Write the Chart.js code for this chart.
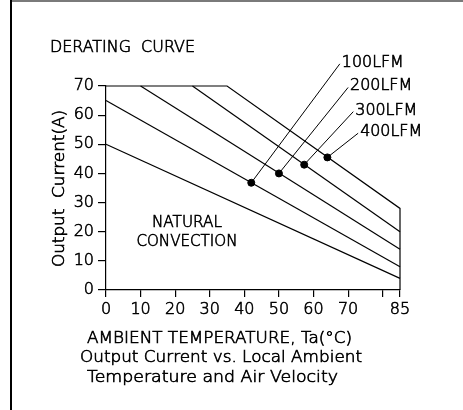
<!DOCTYPE html>
<html>
<head>
<meta charset="utf-8">
<script src="https://cdn.jsdelivr.net/npm/chart.js@4.4.1/dist/chart.umd.min.js"></script>
<style>
  html, body { margin: 0; padding: 0; background: #fff; }
  #wrap { width: 463px; height: 410px; }
</style>
</head>
<body>
<div id="wrap"><canvas id="chart" width="463" height="410"></canvas></div>
<script>
'use strict';

/* ---- Data ---- */
const xTicks = [0, 10, 20, 30, 40, 50, 60, 70, 80, 85];
const yTicks = [0, 10, 20, 30, 40, 50, 60, 70];

const naturalX = [0, 85];
const naturalY = [50, 4];
const lfm100X = [0, 85];
const lfm100Y = [65, 8];
const lfm200X = [10, 85];
const lfm200Y = [70, 14];
const lfm300X = [25, 85];
const lfm300Y = [70, 20];
const lfm400X = [0, 35, 85, 85];
const lfm400Y = [70, 70, 28, 0];

const airflowLabels = ['100LFM', '200LFM', '300LFM', '400LFM'];
const markerX = [42, 50, 57.3, 64];
const markerY = [36.8, 40, 43, 45.5];
const leaderX = [67.6, 70, 71.5, 72.9];
const leaderY = [77.6, 69.5, 61.2, 53.8];

const noteLines = ['NATURAL', 'CONVECTION'];
const noteX = 23.4;
const noteY = [21.6, 15.1];

/* ---- Helpers ---- */
const FONT = "'DejaVu Sans ExtraLight', 'DejaVu Sans', sans-serif";
const STROKE = 0.6;
const pts = (xs, ys) => xs.map((x, i) => ({ x, y: ys[i] }));

const lineStyle = {
  showLine: true,
  borderColor: '#000',
  borderWidth: 1.2,
  pointRadius: 0,
  fill: false,
  tension: 0,
  clip: false
};

// draw text stretched to a given width (CAD font is wider than DejaVu)
function drawFitted(ctx, text, x, y, w) {
  const natural = ctx.measureText(text).width;
  ctx.save();
  ctx.translate(x, y);
  ctx.scale(w / natural, 1);
  ctx.fillText(text, 0, 0);
  ctx.strokeText(text, 0, 0);
  ctx.restore();
}

/* ---- Frame + annotations ---- */
const sheetPlugin = {
  id: 'sheet',
  beforeDraw(chart) {
    const ctx = chart.ctx;
    ctx.save();
    ctx.fillStyle = '#fff';
    ctx.fillRect(0, 0, chart.width, chart.height);
    ctx.fillStyle = '#7a7a7a';
    ctx.fillRect(10, 0, chart.width - 10, 2);
    ctx.fillStyle = '#000';
    ctx.fillRect(10, 0, 2, chart.height);
    ctx.restore();
  },
  afterDraw(chart) {
    const ctx = chart.ctx;
    const xs = chart.scales.x;
    const ys = chart.scales.y;
    ctx.save();
    ctx.fillStyle = '#000';
    ctx.strokeStyle = '#000';
    ctx.lineWidth = STROKE;
    ctx.textBaseline = 'alphabetic';
    ctx.textAlign = 'left';
    ctx.font = '200 15px ' + FONT;

    drawFitted(ctx, 'DERATING  CURVE', 50, 52, 145);
    drawFitted(ctx, 'AMBIENT TEMPERATURE, Ta(°C)', 87, 343, 265);
    drawFitted(ctx, 'Output Current vs. Local Ambient', 80, 362, 282);
    drawFitted(ctx, 'Temperature and Air Velocity', 87, 382, 251);

    // y axis title
    ctx.save();
    ctx.translate(64, 267);
    ctx.rotate(-Math.PI / 2);
    drawFitted(ctx, 'Output  Current(A)', 0, 0, 157);
    ctx.restore();

    // airflow labels at the leader ends
    airflowLabels.forEach((lbl, i) => {
      const px = xs.getPixelForValue(leaderX[i]);
      const py = ys.getPixelForValue(leaderY[i]);
      drawFitted(ctx, lbl, px + 2, py + 3, 62);
    });

    // natural convection note
    const widths = [70, 101];
    noteLines.forEach((t, i) => {
      const cx = xs.getPixelForValue(noteX);
      const py = ys.getPixelForValue(noteY[i]);
      drawFitted(ctx, t, cx - widths[i] / 2, py, widths[i]);
    });
    ctx.restore();
  }
};

/* ---- Chart ---- */
const datasets = [
  { ...lineStyle, data: pts(naturalX, naturalY) },
  { ...lineStyle, data: pts(lfm100X, lfm100Y) },
  { ...lineStyle, data: pts(lfm200X, lfm200Y) },
  { ...lineStyle, data: pts(lfm300X, lfm300Y) },
  { ...lineStyle, data: pts(lfm400X, lfm400Y) }
];

markerX.forEach((x, i) => {
  datasets.push({
    ...lineStyle,
    borderWidth: 1,
    data: [{ x, y: markerY[i] }, { x: leaderX[i], y: leaderY[i] }]
  });
});

datasets.push({
  data: pts(markerX, markerY),
  showLine: false,
  pointRadius: 3.5,
  pointBackgroundColor: '#000',
  pointBorderColor: '#000',
  clip: false
});

const tickFont = { family: FONT, size: 16, weight: 200 };

new Chart(document.getElementById('chart'), {
  type: 'scatter',
  data: { datasets },
  options: {
    responsive: false,
    animation: false,
    devicePixelRatio: 1,
    layout: { padding: { left: 0, top: 86, right: 63, bottom: 0 } },
    plugins: {
      legend: { display: false },
      tooltip: { enabled: false }
    },
    scales: {
      x: {
        type: 'linear',
        min: 0,
        max: 85,
        afterBuildTicks: s => { s.ticks = xTicks.map(v => ({ value: v })); },
        afterFit: s => { s.height = 120; },
        ticks: {
          color: '#000',
          font: tickFont,
          textStrokeColor: '#000',
          textStrokeWidth: STROKE,
          padding: 3,
          maxRotation: 0,
          autoSkip: false,
          callback: v => (v === 80 ? '' : v)
        },
        grid: { drawOnChartArea: false, drawTicks: true, tickLength: 7, color: '#000', lineWidth: 1.2 },
        border: { color: '#000', width: 1.2 }
      },
      y: {
        type: 'linear',
        min: 0,
        max: 70,
        afterBuildTicks: s => { s.ticks = yTicks.map(v => ({ value: v })); },
        afterFit: s => { s.width = 106; },
        ticks: {
          color: '#000',
          font: tickFont,
          textStrokeColor: '#000',
          textStrokeWidth: STROKE,
          padding: 4
        },
        grid: { drawOnChartArea: false, drawTicks: true, tickLength: 8, color: '#000', lineWidth: 1.2 },
        border: { color: '#000', width: 1.2 }
      }
    }
  },
  plugins: [sheetPlugin]
});
</script>
</body>
</html>
